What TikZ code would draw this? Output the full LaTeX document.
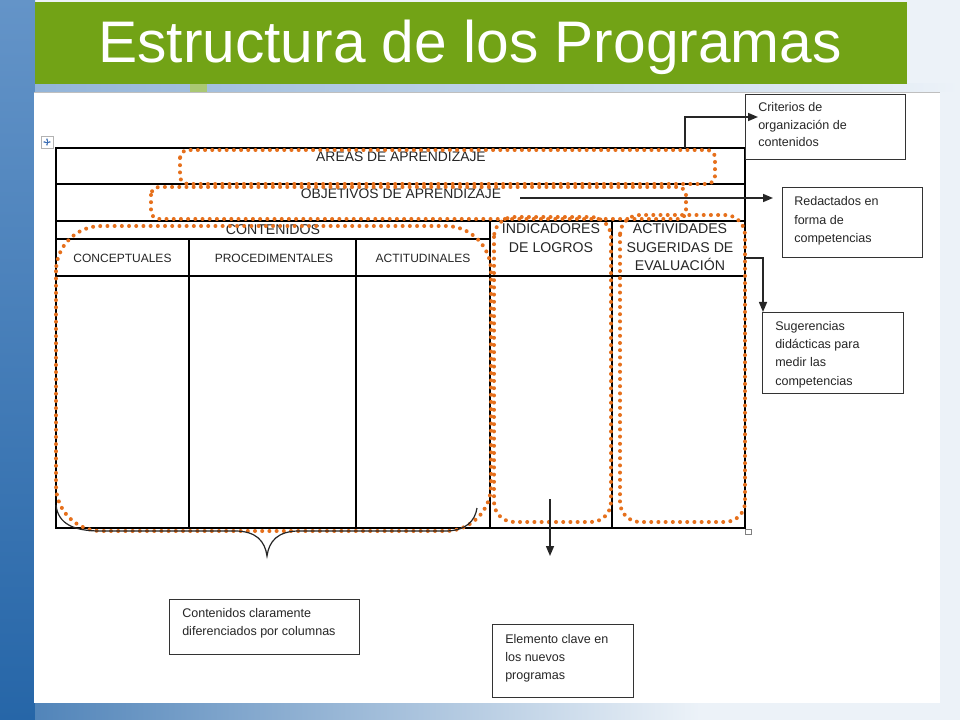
\documentclass[tikz,border=0pt]{standalone}
\usepackage{fontspec}
\setmainfont{Liberation Sans}
\usetikzlibrary{arrows.meta}
\definecolor{titlegreen}{RGB}{114,163,22}
\definecolor{dotorange}{RGB}{230,112,28}
\definecolor{bgtop}{RGB}{100,148,200}
\definecolor{bgbot}{RGB}{38,102,168}
\definecolor{bglight}{RGB}{236,242,248}
\definecolor{handleblue}{RGB}{60,110,180}
\begin{document}
\begin{tikzpicture}[x=0.75pt,y=-0.75pt,
  tline/.style={line width=0.8pt, black},
  dotbox/.style={draw=dotorange, line width=3pt, line cap=round, dash pattern=on 0pt off 5.4pt},
  conn/.style={line width=1.1pt, black!85, -{Triangle[length=7.5pt,width=6pt]}},
  infobox/.style={draw=black!80, line width=1.1pt, fill=white, inner sep=0pt, anchor=north west},
  btxt/.style={anchor=base west, inner sep=0pt, font=\fontsize{9.4}{11}\selectfont, text=black!85},
  hdr/.style={anchor=base, inner sep=0pt, font=\fontsize{10.4}{12}\selectfont, text=black!85},
  sub/.style={anchor=base, inner sep=0pt, font=\fontsize{9}{11}\selectfont, text=black!85},
  big/.style={anchor=base, inner sep=0pt, font=\fontsize{10.6}{12}\selectfont, text=black!85}]
\useasboundingbox (0,0) rectangle (960,720);
% background
\fill[bglight] (0,0) rectangle (960,720);
\shade[top color=bgtop, bottom color=bgbot] (0,0) rectangle (35,720);
\shade[left color=bgbot!80, right color=bglight] (35,703) rectangle (700,720);
\shade[left color=bgtop!70, right color=bglight] (35,84) rectangle (960,92);
\fill[titlegreen!60] (190,84) rectangle (207,92);
\fill[white] (34,92) rectangle (940,703);
\draw[gray!50, line width=0.6pt] (34,92.5) -- (940,92.5);
% title bar
\fill[titlegreen] (35,2) rectangle (907,84);
\node[anchor=base, inner sep=0pt, text=white, font=\fontsize{44}{50}\selectfont] (ttl) at (470,63) {Estructura de los Programas};
% table handle
\draw[gray!60, fill=white, line width=0.5pt] (41,136) rectangle (53,148);
\draw[handleblue, line width=0.6pt, {Stealth[length=2pt]}-{Stealth[length=2pt]}] (43,142) -- (51,142);
\draw[handleblue, line width=0.6pt, {Stealth[length=2pt]}-{Stealth[length=2pt]}] (47,138) -- (47,146);
% table lines
\draw[tline] (56,148) rectangle (745,528);
\draw[tline] (56,184) -- (745,184);
\draw[tline] (56,221) -- (745,221);
\draw[tline] (56,239) -- (490,239);
\draw[tline] (56,276) -- (745,276);
\draw[tline] (189,239) -- (189,528);
\draw[tline] (356,239) -- (356,528);
\draw[tline] (490,221) -- (490,528);
\draw[tline] (612,221) -- (612,528);
\draw[gray, fill=white, line width=0.5pt] (745,529) rectangle (751,534);
% table texts
\node[hdr] (areas) at (401,162) {AREAS DE APRENDIZAJE};
\node[hdr] (objet) at (401,199) {OBJETIVOS DE APRENDIZAJE};
\node[big] (conten) at (273,235) {CONTENIDOS};
\node[sub] (concep) at (122.5,263) {CONCEPTUALES};
\node[sub] (proced) at (274,263) {PROCEDIMENTALES};
\node[sub] (actitu) at (423,263) {ACTITUDINALES};
\node[big] (ind1) at (551,234) {INDICADORES};
\node[big] (ind2) at (551,253) {DE LOGROS};
\node[big] (act1) at (680,234) {ACTIVIDADES};
\node[big] (act2) at (680,252.5) {SUGERIDAS DE};
\node[big] (act3) at (680,271) {EVALUACIÓN};
% dotted highlights
\draw[dotbox, rounded corners=6pt] (180,150) rectangle (715,184);
\draw[dotbox, rounded corners=6pt] (151,187) rectangle (686,219);
\draw[dotbox, rounded corners=34pt] (56,226) rectangle (491,531);
\draw[dotbox, rounded corners=15pt] (494,217) rectangle (611,522);
\draw[dotbox, rounded corners=15pt] (620,215) rectangle (745,522);
% brace
\draw[line width=0.9pt, black!85] (56,505) .. controls (58,524) and (74,531) .. (100,531) -- (235,531) .. controls (256,531) and (265,541) .. (267,556) .. controls (269,541) and (278,531) .. (299,531) -- (445,531) .. controls (466,531) and (475,521) .. (477,508);
% info boxes
\node[infobox, minimum width=120pt, minimum height=48.75pt] (crit) at (745,94) {};
\node[btxt] (crit1) at (758,112) {Criterios de};
\node[btxt] (crit2) at (758,129.5) {organización de};
\node[btxt] (crit3) at (758,147) {contenidos};
\node[infobox, minimum width=105pt, minimum height=52.5pt] (red) at (782,187) {};
\node[btxt] (red1) at (794,206) {Redactados en};
\node[btxt] (red2) at (794,224.5) {forma de};
\node[btxt] (red3) at (794,243) {competencias};
\node[infobox, minimum width=105.75pt, minimum height=60.75pt] (sug) at (762,312) {};
\node[btxt] (sug1) at (775,330) {Sugerencias};
\node[btxt] (sug2) at (775,348.3) {didácticas para};
\node[btxt] (sug3) at (775,366.6) {medir las};
\node[btxt] (sug4) at (775,385) {competencias};
\node[infobox, minimum width=142.5pt, minimum height=41.25pt] (cont) at (169,599) {};
\node[btxt] (cont1) at (182,617) {Contenidos claramente};
\node[btxt] (cont2) at (182,635) {diferenciados por columnas};
\node[infobox, minimum width=105.75pt, minimum height=54.75pt] (elem) at (492,624) {};
\node[btxt] (elem1) at (505,643) {Elemento clave en};
\node[btxt] (elem2) at (505,661) {los nuevos};
\node[btxt] (elem3) at (505,679) {programas};
% connectors
\coordinate (a1s) at (685,148);
\draw[conn] (a1s) |- ([xshift=9.75pt,yshift=-17.25pt]crit.north west);
\coordinate (a2s) at (520,198);
\coordinate (a2e) at (773,198);
\draw[conn] (a2s) -- (a2e);
\coordinate (a3s) at (745,258);
\draw[conn] (a3s) -| ([xshift=0.75pt]sug.north west);
\coordinate (a4s) at (550,499);
\coordinate (a4e) at (550,556);
\draw[conn] (a4s) -- (a4e);
\end{tikzpicture}
\end{document}
